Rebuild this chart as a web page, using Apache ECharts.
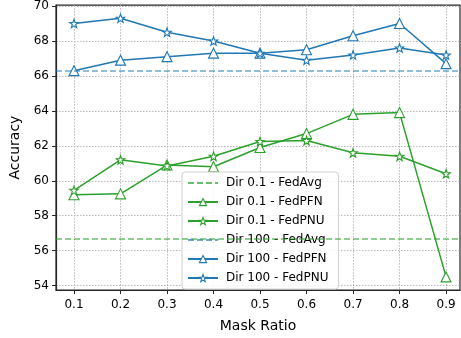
<!DOCTYPE html>
<html>
<head>
<meta charset="utf-8">
<script src="https://cdn.jsdelivr.net/npm/echarts@6/dist/echarts.min.js"></script>
<style>
  html, body { margin: 0; padding: 0; background: #fff; }
  #chart { width: 461px; height: 338px; }
</style>
</head>
<body>
<div id="chart"></div>
<script>
// mask ratios on the x axis
var maskRatio = [0.1, 0.2, 0.3, 0.4, 0.5, 0.6, 0.7, 0.8, 0.9];
var xTicks = [0.1, 0.2, 0.3, 0.4, 0.5, 0.6, 0.7, 0.8, 0.9];
var yTicks = [54, 56, 58, 60, 62, 64, 66, 68, 70];

// Dir 0.1
var dir01Avg = 56.7;
var dir01PFN = [59.2, 59.25, 60.9, 60.8, 61.9, 62.7, 63.8, 63.9, 54.5];
var dir01PNU = [59.45, 61.2, 60.85, 61.4, 62.25, 62.3, 61.6, 61.4, 60.4];
// Dir 100
var dir100Avg = 66.3;
var dir100PFN = [66.3, 66.9, 67.1, 67.3, 67.3, 67.5, 68.3, 69.0, 66.7];
var dir100PNU = [69.0, 69.3, 68.5, 68.0, 67.3, 66.9, 67.2, 67.6, 67.2];

var green = '#2ca02c';
var blue = '#1f77b4';
var star = 'path://M0,-10L2.35,-3.24L9.51,-3.09L3.8,1.24L5.88,8.09L0,4.2L-5.88,8.09L-3.8,1.24L-9.51,-3.09L-2.35,-3.24Z';
var font = 'DejaVu Sans';

function pairs(vals) {
  return maskRatio.map(function (x, i) { return [x, vals[i]]; });
}

function lineSeries(name, vals, color, symbol, size) {
  return {
    name: name,
    type: 'line',
    data: pairs(vals),
    symbol: symbol,
    symbolSize: size,
    showAllSymbol: true,
    lineStyle: { color: color, width: 1.5 },
    itemStyle: { color: '#fff', borderColor: color, borderWidth: 1.1 },
    emphasis: { disabled: true },
    z: 3
  };
}

function avgSeries(name, val, color) {
  return {
    name: name,
    type: 'line',
    data: [],
    symbol: 'none',
    lineStyle: { color: color, width: 1.5, type: [6, 3] },
    itemStyle: { color: color },
    markLine: {
      silent: true,
      symbol: 'none',
      label: { show: false },
      lineStyle: { color: color, width: 1.5, type: [6, 3] },
      data: [{ yAxis: val }]
    },
    z: 2
  };
}

function hollow(name, color) {
  return { name: name, itemStyle: { color: '#fff', borderColor: color, borderWidth: 1.1 } };
}

var chart = echarts.init(document.getElementById('chart'));

var gridLine = { show: true, lineStyle: { color: '#b0b0b0', width: 0.9, type: [1.5, 1.5] } };

chart.setOption({
  animation: false,
  textStyle: { fontFamily: font },
  grid: {
    left: 56, top: 4, right: 1, bottom: 43,
    show: true, borderColor: '#262626', borderWidth: 1.2, backgroundColor: 'transparent'
  },
  xAxis: {
    type: 'value',
    min: 0.0613,
    max: 0.93,
    name: 'Mask Ratio',
    nameLocation: 'middle',
    nameGap: 29,
    nameTextStyle: { fontSize: 14, color: '#000', fontFamily: font },
    axisLine: { show: true, onZero: false, lineStyle: { color: '#262626', width: 1.2 } },
    axisTick: { show: true, customValues: xTicks, length: 4, lineStyle: { color: '#262626' } },
    axisLabel: {
      customValues: xTicks, fontSize: 12, color: '#000', margin: 9,
      formatter: function (v) { return v.toFixed(1); }
    },
    splitLine: gridLine
  },
  yAxis: {
    type: 'value',
    min: 53.75,
    max: 70.05,
    name: 'Accuracy',
    nameLocation: 'middle',
    nameGap: 32,
    nameTextStyle: { fontSize: 14, color: '#000', fontFamily: font },
    axisLine: { show: true, onZero: false, lineStyle: { color: '#262626', width: 1.2 } },
    axisTick: { show: true, customValues: yTicks, length: 4, lineStyle: { color: '#262626' } },
    axisLabel: { customValues: yTicks, fontSize: 12, color: '#000', margin: 7 },
    splitLine: gridLine
  },
  legend: {
    orient: 'vertical',
    left: 182,
    top: 172,
    padding: [5, 10, 5, 5],
    itemWidth: 30,
    itemHeight: 9,
    itemGap: 7,
    backgroundColor: 'rgba(255,255,255,0.85)',
    borderColor: '#d0d0d0',
    borderWidth: 1,
    borderRadius: 3,
    textStyle: { fontSize: 12, color: '#000', fontFamily: font, padding: [0, 0, 0, 3] },
    data: [
      { name: 'Dir 0.1 - FedAvg', itemStyle: { opacity: 0 } },
      hollow('Dir 0.1 - FedPFN', green),
      hollow('Dir 0.1 - FedPNU', green),
      { name: 'Dir 100 - FedAvg', itemStyle: { opacity: 0 } },
      hollow('Dir 100 - FedPFN', blue),
      hollow('Dir 100 - FedPNU', blue)
    ]
  },
  series: [
    avgSeries('Dir 0.1 - FedAvg', dir01Avg, 'rgba(44,160,44,0.7)'),
    lineSeries('Dir 0.1 - FedPFN', dir01PFN, green, 'triangle', 10),
    lineSeries('Dir 0.1 - FedPNU', dir01PNU, green, star, 8.5),
    avgSeries('Dir 100 - FedAvg', dir100Avg, 'rgba(31,119,180,0.65)'),
    lineSeries('Dir 100 - FedPFN', dir100PFN, blue, 'triangle', 10),
    lineSeries('Dir 100 - FedPNU', dir100PNU, blue, star, 8.5)
  ]
});
</script>
</body>
</html>
